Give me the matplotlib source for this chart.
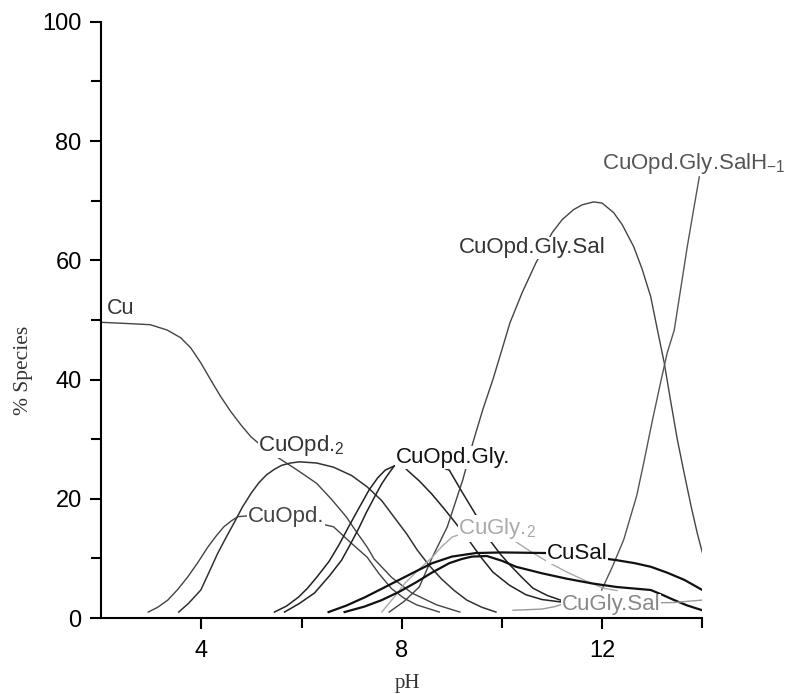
import numpy as np
import matplotlib.pyplot as plt
from matplotlib.ticker import MultipleLocator, FixedLocator

# species distribution curves (pH, % species)
cu_ph = [2.0, 2.52, 2.98, 3.32, 3.59, 3.79, 3.99, 4.19, 4.39, 4.59, 4.79, 4.99, 5.13,
         5.55, 5.9, 6.3, 6.6, 6.9, 7.1, 7.31, 7.45, 7.8, 8.2, 8.7, 9.16]
cu_val = [49.6, 49.4, 49.2, 48.3, 47.0, 45.3, 42.8, 39.9, 37.1, 34.6, 32.4, 30.4, 29.4,
          26.8, 24.9, 22.6, 19.9, 16.9, 14.4, 11.9, 9.9, 6.8, 4.2, 2.2, 1.0]

cuopd_ph = [2.94, 3.13, 3.33, 3.53, 3.73, 3.93, 4.13, 4.3, 4.45, 4.6, 4.73, 5.5, 6.64, 7.0, 7.31, 7.55, 7.8, 8.05, 8.3, 8.75]
cuopd_val = [1.0, 1.8, 3.0, 4.8, 6.9, 9.3, 11.9, 13.8, 15.3, 16.3, 17.0, 17.5, 15.3, 12.5, 10.2, 7.4, 4.9, 3.3, 2.2, 1.0]

cuopd2_ph = [3.55, 3.75, 3.99, 4.15, 4.33, 4.5, 4.65, 4.82, 5.0, 5.15, 5.3, 5.45, 5.6, 5.78, 5.96, 6.3, 6.64,
             7.0, 7.31, 7.6, 7.85, 8.1, 8.31, 8.55, 8.8, 9.05, 9.3, 9.6, 9.88]
cuopd2_val = [1.0, 2.5, 4.7, 7.6, 10.9, 13.6, 15.9, 18.6, 21.0, 22.7, 24.0, 24.9, 25.6, 26.0, 26.2, 26.0, 25.3,
              23.9, 22.0, 19.7, 16.9, 14.1, 11.4, 8.8, 6.5, 4.6, 3.0, 1.8, 1.0]

cuopdgly_a_ph = [5.46, 5.7, 5.94, 6.12, 6.3, 6.55, 6.75, 6.94, 7.15, 7.35, 7.52, 7.67, 7.85, 7.98, 8.11, 8.35,
                 8.6, 8.83, 9.06, 9.36, 9.6, 9.82, 10.15, 10.48, 10.8, 11.17]
cuopdgly_a_val = [1.0, 2.0, 3.5, 5.0, 6.8, 9.5, 12.3, 15.3, 18.5, 21.5, 23.5, 24.8, 25.5, 26.0, 24.8, 23.0,
                  20.8, 18.5, 16.1, 12.8, 10.0, 7.7, 5.5, 3.9, 3.1, 2.7]

cuopdgly_b_ph = [5.66, 5.95, 6.26, 6.55, 6.8, 6.97, 7.14, 7.3, 7.47, 7.6, 7.72, 7.85, 8.4, 8.95, 9.2, 9.48,
                 9.78, 9.97, 10.16, 10.4, 10.62, 10.9, 11.17]
cuopdgly_b_val = [1.0, 2.4, 4.2, 7.0, 9.7, 12.3, 15.0, 17.8, 20.5, 22.5, 24.0, 25.5, 26.5, 24.8, 21.2, 17.3,
                  12.8, 10.7, 8.9, 6.8, 5.0, 3.8, 3.0]

cuopdglysal_ph = [7.75, 8.05, 8.35, 8.6, 8.91, 9.22, 9.42, 9.62, 9.82, 10.0, 10.16, 10.4, 10.68, 11.0, 11.2,
                  11.43, 11.6, 11.83, 12.0, 12.23, 12.4, 12.63, 12.8, 12.97, 13.1, 13.24, 13.37, 13.5, 13.64,
                  13.78, 13.9, 14.0]
cuopdglysal_val = [1.0, 2.8, 5.2, 10.0, 15.3, 23.2, 29.4, 35.0, 40.0, 45.0, 49.5, 54.5, 59.6, 64.6, 66.8,
                   68.5, 69.3, 69.8, 69.6, 68.0, 66.0, 62.3, 58.5, 53.9, 48.5, 42.8, 36.3, 30.0, 24.2,
                   18.6, 14.2, 11.0]

salh_ph = [11.99, 12.2, 12.43, 12.69, 12.83, 13.0, 13.18, 13.3, 13.44, 13.57, 13.7, 13.82, 13.94]
salh_val = [4.7, 8.5, 13.1, 20.5, 26.0, 33.0, 40.0, 44.5, 48.3, 55.3, 62.3, 68.2, 74.0]

cugly2_ph = [7.6, 7.85, 8.07, 8.35, 8.61, 8.8, 9.01, 9.6, 10.22, 10.6, 10.96, 11.3, 11.63, 12.03, 12.3]
cugly2_val = [1.0, 3.5, 5.9, 8.2, 10.2, 12.0, 13.6, 15.2, 13.1, 11.0, 9.2, 7.7, 6.4, 5.0, 4.6]

cusal_a_ph = [6.54, 6.9, 7.27, 7.6, 7.95, 8.3, 8.61, 9.0, 9.48, 10.0, 10.88, 11.5, 12.29, 12.65, 12.97,
              13.3, 13.64, 14.0]
cusal_a_val = [1.0, 2.1, 3.5, 4.9, 6.4, 7.9, 9.2, 10.3, 10.9, 11.0, 10.9, 10.6, 9.7, 9.2, 8.6, 7.6, 6.4, 4.7]

cusal_b_ph = [6.86, 7.25, 7.6, 7.95, 8.27, 8.6, 8.95, 9.2, 9.4, 9.7, 10.0, 10.28, 10.8, 11.29, 11.8, 12.29,
              12.97, 13.2, 13.44, 13.7, 14.0]
cusal_b_val = [1.0, 1.9, 3.0, 4.4, 5.9, 7.6, 9.2, 9.9, 10.3, 10.4, 9.6, 8.6, 7.5, 6.6, 5.8, 5.2,
               4.7, 3.9, 3.0, 2.1, 1.3]

cuglysal_ph = [10.22, 10.8, 11.05, 11.2, 13.45, 13.7, 14.0]
cuglysal_val = [1.3, 1.5, 1.9, 2.3, 2.6, 2.8, 3.0]

plt.rcParams['font.family'] = ['Liberation Sans', 'DejaVu Sans']
plt.rcParams['mathtext.fontset'] = 'custom'
plt.rcParams['mathtext.rm'] = 'Liberation Sans'
plt.rcParams['mathtext.it'] = 'Liberation Sans'

fig = plt.figure(figsize=(7.9, 6.94), dpi=100)
ax = fig.add_axes([0.128, 0.1095, 0.761, 0.859])

ax.plot(cu_ph, cu_val, color='#444444', lw=1.0)
ax.plot(cuopd_ph, cuopd_val, color='#444444', lw=1.0)
ax.plot(cuopd2_ph, cuopd2_val, color='#333333', lw=1.1)
ax.plot(cuopdgly_a_ph, cuopdgly_a_val, color='#222222', lw=1.1)
ax.plot(cuopdgly_b_ph, cuopdgly_b_val, color='#222222', lw=1.1)
ax.plot(cuopdglysal_ph, cuopdglysal_val, color='#444444', lw=1.0)
ax.plot(salh_ph, salh_val, color='#555555', lw=1.0)
ax.plot(cugly2_ph, cugly2_val, color='#aaaaaa', lw=1.0)
ax.plot(cusal_a_ph, cusal_a_val, color='#111111', lw=1.6)
ax.plot(cusal_b_ph, cusal_b_val, color='#111111', lw=1.6)
ax.plot(cuglysal_ph, cuglysal_val, color='#999999', lw=1.0)

# curve labels, white box hides the line behind them like the original
box = dict(facecolor='white', edgecolor='none', pad=0.5)
fs = 16
ax.text(2.12, 52.0, 'Cu', fontsize=15.5, color='#333333', va='center')
ax.text(5.14, 29.0, 'CuOpd.$_2$', fontsize=fs, color='#333333', va='center', bbox=box)
ax.text(4.92, 17.0, 'CuOpd.', fontsize=fs, color='#444444', va='center', bbox=box)
ax.text(7.88, 26.9, 'CuOpd.Gly.', fontsize=fs, color='#111111', va='center', bbox=box)
ax.text(9.13, 15.0, 'CuGly.$_2$', fontsize=fs, color='#aaaaaa', va='center', bbox=box)
ax.text(10.9, 10.9, 'CuSal', fontsize=fs, color='#111111', va='center', bbox=box)
ax.text(11.2, 2.2, 'CuGly.Sal', fontsize=fs, color='#888888', va='center', bbox=box)
ax.text(9.15, 62.1, 'CuOpd.Gly.Sal', fontsize=fs, color='#333333', va='center', bbox=box)
ax.text(12.0, 76.3, 'CuOpd.Gly.SalH$_{-1}$', fontsize=fs, color='#555555', va='center', bbox=box)

ax.set_xlim(2, 14)
ax.set_ylim(0, 100)
ax.xaxis.set_major_locator(FixedLocator([4, 8, 12]))
ax.xaxis.set_minor_locator(FixedLocator([6, 10, 14]))
ax.yaxis.set_major_locator(MultipleLocator(20))
ax.yaxis.set_minor_locator(MultipleLocator(10))

ax.spines['top'].set_visible(False)
ax.spines['right'].set_visible(False)
ax.spines['left'].set_linewidth(1.5)
ax.spines['bottom'].set_linewidth(1.5)
ax.tick_params(which='major', direction='out', length=8, width=1.5, labelsize=17, pad=6)
ax.tick_params(axis='x', which='major', pad=8)
ax.tick_params(which='minor', direction='out', length=7, width=1.5)

ax.set_xlabel('pH', family='Liberation Serif', fontsize=15, color='#333333')
ax.set_ylabel('% Species', family='Liberation Serif', fontsize=15.5, color='#333333')
ax.xaxis.set_label_coords(0.509, -0.094)
ax.yaxis.set_label_coords(-0.113, 0.416)

fig.savefig('out.png', dpi=100, facecolor='white')
